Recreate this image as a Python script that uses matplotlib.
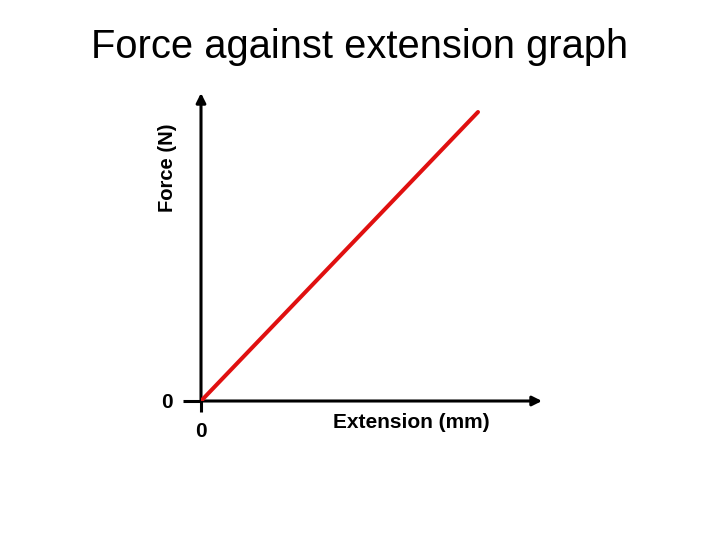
import matplotlib
matplotlib.use("Agg")
import matplotlib.pyplot as plt

plt.rcParams["font.family"] = ["Liberation Sans", "DejaVu Sans"]

# straight line through the origin (Hooke's law sketch, no units on scale)
extension = [0, 10]
force = [0, 10]
x_ticks = [0]
y_ticks = [0]

W, H = 720, 540
fig = plt.figure(figsize=(W / 100, H / 100), dpi=100)

# axes box in pixels: origin (201, 401), arrow tips at x=542, y=93
ox, oy, xt, yt = 201, 401, 542, 93
ax = fig.add_axes([ox / W, 1 - oy / H, (xt - ox) / W, (oy - yt) / H])
ax.set_xlim(0, 10 * (xt - ox) / 277)
ax.set_ylim(0, 10 * (oy - yt) / 289)

ax.plot(extension, force, color="#e01010", lw=2.9, solid_capstyle="round", zorder=3)

for s in ax.spines.values():
    s.set_visible(False)

# axis arrows
arrow = dict(arrowstyle="-|>", color="black", lw=2.2,
             mutation_scale=14, shrinkA=0, shrinkB=0)
ax.annotate("", xy=(1, 0), xytext=(0, 0), xycoords="axes fraction",
            arrowprops=arrow, zorder=2)
ax.annotate("", xy=(0, 1), xytext=(0, 0), xycoords="axes fraction",
            arrowprops=arrow, zorder=2)

ax.set_xticks(x_ticks)
ax.set_yticks(y_ticks)
ax.set_xticklabels([str(v) for v in x_ticks], fontsize=15, fontweight="bold")
ax.set_yticklabels([str(v) for v in y_ticks], fontsize=15, fontweight="bold")
ax.tick_params(axis="y", length=13, width=2.2, pad=7, direction="out")
ax.tick_params(axis="x", length=8, width=2.2, pad=7, direction="out")

ax.text(-0.097, 0.756, "Force (N)", transform=ax.transAxes, rotation=90,
        ha="center", va="center", fontsize=14.5, fontweight="bold")
ax.text(0.616, -0.071, "Extension (mm)", transform=ax.transAxes,
        ha="center", va="center", fontsize=15, fontweight="bold")

fig.text(0.5, 1 - 47 / H, "Force against extension graph",
         ha="center", va="center", fontsize=28.7)

fig.savefig("out.png", dpi=100)
